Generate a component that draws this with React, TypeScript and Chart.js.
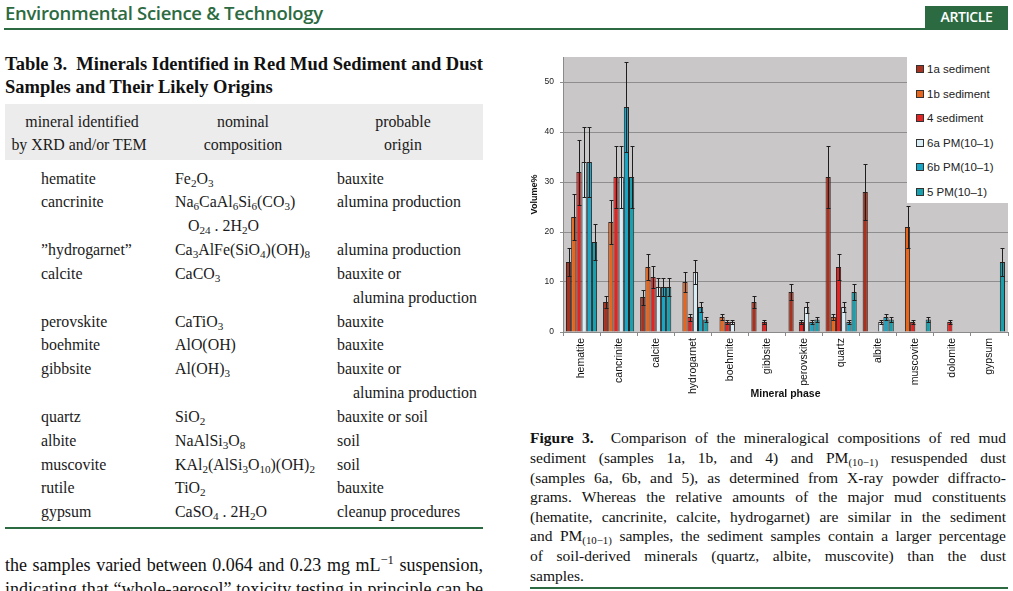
import React, { useEffect, useRef } from "react";
import { Chart, registerables } from "chart.js";
Chart.register(...registerables);

const minerals = ["hematite", "cancrinite", "calcite", "hydrogarnet", "boehmite", "gibbsite", "perovskite", "quartz", "albite", "muscovite", "dolomite", "gypsum"];
const seriesLabels = ["1a sediment", "1b sediment", "4 sediment", "6a PM(10–1)", "6b PM(10–1)", "5 PM(10–1)"];
const seriesColors = ["#a8321f", "#e8661c", "#e32422", "#d8edf5", "#16a6c6", "#17a0ad"];

const vol1a = [14, 6, 7, null, null, 6, 8, 31, 28, null, null, null];
const vol1b = [23, 22, 13, 10, 3, null, null, 3, null, 21, null, null];
const vol4 = [32, 31, 11, 3, 2, 2, 2, 13, null, 2, 2, null];
const vol6a = [34, 31, 9, 12, 2, null, 5, 5, 2, null, null, null];
const vol6b = [34, 45, 9, 5, null, null, 2, 2, 3, null, null, null];
const vol5 = [18, 31, 9, 2.5, null, null, 2.5, 8, 2.5, 2.5, null, 14];

const err1a = [2.8, 1.2, 1.5, 0, 0, 1.2, 1.6, 6.2, 5.6, 0, 0, 0];
const err1b = [4.6, 4.4, 2.6, 2, 0.6, 0, 0, 0.6, 0, 4.2, 0, 0];
const err4 = [6.5, 6.2, 2.2, 0.7, 0.4, 0.4, 0.4, 2.6, 0, 0.4, 0.4, 0];
const err6a = [7, 6.2, 1.8, 2.4, 0.4, 0, 1.1, 1, 0.4, 0, 0, 0];
const err6b = [7, 9, 1.8, 1, 0, 0, 0.4, 0.4, 0.6, 0, 0, 0];
const err5 = [3.6, 6.2, 1.8, 0.5, 0, 0, 0.5, 1.6, 0.5, 0.5, 0, 2.8];

const yTicks = [0, 10, 20, 30, 40, 50];

const seriesValues = [vol1a, vol1b, vol4, vol6a, vol6b, vol5];
const seriesErrors = [err1a, err1b, err4, err6a, err6b, err5];

const SERIF = '"Liberation Serif", "Times New Roman", serif';
const SANS = '"Liberation Sans", Arial, sans-serif';
const GREEN = "#2c6b41";

const plotBg = {
  id: "plotBg",
  beforeDraw(chart: any) {
    const { ctx, chartArea } = chart;
    ctx.save();
    ctx.fillStyle = "#c9c7c8";
    ctx.fillRect(chartArea.left, chartArea.top, chartArea.right - chartArea.left, chartArea.bottom - chartArea.top);
    ctx.restore();
  },
};

const errorBars = {
  id: "errorBars",
  afterDatasetsDraw(chart: any) {
    const { ctx } = chart;
    const yScale = chart.scales.y;
    ctx.save();
    ctx.strokeStyle = "#1e1e1e";
    ctx.lineWidth = 1;
    chart.data.datasets.forEach((ds: any, di: number) => {
      const meta = chart.getDatasetMeta(di);
      const errs = seriesErrors[di];
      meta.data.forEach((bar: any, i: number) => {
        const v = ds.data[i];
        const e = errs[i];
        if (v == null || !e) return;
        const x = Math.round(bar.x) + 0.5;
        const yTop = Math.round(yScale.getPixelForValue(v + e)) + 0.5;
        const yBot = Math.round(yScale.getPixelForValue(Math.max(0, v - e))) + 0.5;
        ctx.beginPath();
        ctx.moveTo(x, yTop);
        ctx.lineTo(x, yBot);
        ctx.moveTo(x - 2, yTop);
        ctx.lineTo(x + 2, yTop);
        ctx.moveTo(x - 2, yBot);
        ctx.lineTo(x + 2, yBot);
        ctx.stroke();
      });
    });
    ctx.restore();
  },
};

function MineralChart() {
  const ref = useRef<HTMLCanvasElement>(null);
  useEffect(() => {
    if (!ref.current) return;
    const chart = new Chart(ref.current, {
      type: "bar",
      data: {
        labels: minerals,
        datasets: seriesLabels.map((label, i) => ({
          label,
          data: seriesValues[i],
          backgroundColor: seriesColors[i],
          borderColor: "#2e2220",
          borderWidth: 1,
          categoryPercentage: 0.84,
          barPercentage: 1.0,
        })),
      },
      options: {
        responsive: false,
        animation: false,
        events: [],
        layout: { padding: { top: 17, right: 5, left: 0, bottom: 0 } },
        plugins: { legend: { display: false }, tooltip: { enabled: false } },
        scales: {
          x: {
            grid: { display: true, drawOnChartArea: false, drawTicks: true, tickLength: 4, color: "#8a8a8a", offset: true },
            border: { display: true, color: "#8a8a8a" },
            ticks: { minRotation: 90, maxRotation: 90, autoSkip: false, font: { family: SANS, size: 10.5 }, color: "#111", padding: 2 },
            title: { display: true, text: "Mineral phase", font: { family: SANS, size: 10.5, weight: "bold" }, color: "#111", padding: { top: 0, bottom: 10 } },
            afterFit: (s: any) => { s.height = 78; },
          },
          y: {
            min: 0,
            max: 55,
            afterBuildTicks: (s: any) => { s.ticks = yTicks.map((v) => ({ value: v })); },
            ticks: { font: { family: SANS, size: 8.5 }, color: "#222", padding: 6 },
            grid: { color: "#8e8e8e", tickLength: 3 },
            border: { display: true, color: "#8a8a8a" },
            title: { display: true, text: "Volume%", font: { family: SANS, size: 9, weight: "bold" }, color: "#111", padding: { top: 4, bottom: 0 } },
            afterFit: (s: any) => { s.width = 38; },
          },
        },
      },
      plugins: [plotBg, errorBars],
    } as any);
    return () => chart.destroy();
  }, []);
  return <canvas ref={ref} width={488} height={370} style={{ display: "block" }} />;
}

function Abs({ x, y, w, h = 24, style, children }: any) {
  return (
    <div style={{ position: "absolute", left: x, top: y - h / 2, width: w, height: h, lineHeight: h + "px", ...style }}>
      {children}
    </div>
  );
}

function JLine({ x, y, w, size, last, children }: any) {
  return (
    <div style={{ position: "absolute", left: x, top: y - 10, width: w, height: 20, lineHeight: "20px", fontFamily: SERIF, fontSize: size, textAlign: "justify", textAlignLast: last ? "left" : "justify", color: "#111" } as any}>
      {children}
    </div>
  );
}

const tableRows: { y: number; c1?: any; c2?: any; c3?: any; c2x?: number; c3x?: number }[] = [
  { y: 179, c1: "hematite", c2: <>Fe<sub>2</sub>O<sub>3</sub></>, c3: "bauxite" },
  { y: 202, c1: "cancrinite", c2: <>Na<sub>6</sub>CaAl<sub>6</sub>Si<sub>6</sub>(CO<sub>3</sub>)</>, c3: "alumina production" },
  { y: 226, c2: <>O<sub>24</sub> . 2H<sub>2</sub>O</>, c2x: 188 },
  { y: 250, c1: "\u201dhydrogarnet\u201d", c2: <>Ca<sub>3</sub>AlFe(SiO<sub>4</sub>)(OH)<sub>8</sub></>, c3: "alumina production" },
  { y: 274, c1: "calcite", c2: <>CaCO<sub>3</sub></>, c3: "bauxite or" },
  { y: 298, c3: "alumina production", c3x: 353 },
  { y: 322, c1: "perovskite", c2: <>CaTiO<sub>3</sub></>, c3: "bauxite" },
  { y: 345, c1: "boehmite", c2: "AlO(OH)", c3: "bauxite" },
  { y: 369, c1: "gibbsite", c2: <>Al(OH)<sub>3</sub></>, c3: "bauxite or" },
  { y: 393, c3: "alumina production", c3x: 353 },
  { y: 417, c1: "quartz", c2: <>SiO<sub>2</sub></>, c3: "bauxite or soil" },
  { y: 441, c1: "albite", c2: <>NaAlSi<sub>3</sub>O<sub>8</sub></>, c3: "soil" },
  { y: 465, c1: "muscovite", c2: <>KAl<sub>2</sub>(AlSi<sub>3</sub>O<sub>10</sub>)(OH)<sub>2</sub></>, c3: "soil" },
  { y: 488, c1: "rutile", c2: <>TiO<sub>2</sub></>, c3: "bauxite" },
  { y: 512, c1: "gypsum", c2: <>CaSO<sub>4</sub> . 2H<sub>2</sub>O</>, c3: "cleanup procedures" },
];

const subStyle = `sub{font-size:0.7em;vertical-align:-0.25em;line-height:0;}`;

export default function App() {
  const tStyle = { fontFamily: SERIF, fontSize: 15.9, color: "#1a1a1a", whiteSpace: "nowrap" };
  return (
    <div style={{ position: "fixed", left: 0, top: 0, width: 1013, height: 591, overflow: "hidden", background: "#fff" }}>
      <style>{subStyle}</style>
      {/* header */}
      <Abs x={5} y={13} w={420} h={26} style={{ fontFamily: '"Open Sans", sans-serif', fontSize: 18.5, fontWeight: 600, color: GREEN, whiteSpace: "nowrap", letterSpacing: -0.3 }}>
        Environmental Science &amp; Technology
      </Abs>
      <div style={{ position: "absolute", left: 4, top: 28, width: 1004, height: 2, background: GREEN }} />
      <div style={{ position: "absolute", left: 925, top: 6, width: 83, height: 22, background: GREEN, color: "#fff", fontFamily: '"Open Sans", sans-serif', fontSize: 14, fontWeight: 600, lineHeight: "22px", textAlign: "center", letterSpacing: -0.4 }}>
        ARTICLE
      </div>

      {/* table title */}
      <Abs x={5} y={64} w={500} h={23} style={{ fontFamily: SERIF, fontSize: 18.5, fontWeight: "bold", color: "#111", whiteSpace: "nowrap" }}>
        Table 3.&nbsp; Minerals Identified in Red Mud Sediment and Dust
      </Abs>
      <Abs x={5} y={87} w={500} h={23} style={{ fontFamily: SERIF, fontSize: 18.5, fontWeight: "bold", color: "#111", whiteSpace: "nowrap" }}>
        Samples and Their Likely Origins
      </Abs>

      {/* table header */}
      <div style={{ position: "absolute", left: 5, top: 104, width: 478, height: 56, background: "#ececec" }} />
      <Abs x={0} y={122} w={164} style={{ ...tStyle, textAlign: "center" }}>mineral identified</Abs>
      <Abs x={0} y={145} w={158} style={{ ...tStyle, textAlign: "center" }}>by XRD and/or TEM</Abs>
      <Abs x={163} y={122} w={160} style={{ ...tStyle, textAlign: "center" }}>nominal</Abs>
      <Abs x={163} y={145} w={160} style={{ ...tStyle, textAlign: "center" }}>composition</Abs>
      <Abs x={323} y={122} w={160} style={{ ...tStyle, textAlign: "center" }}>probable</Abs>
      <Abs x={323} y={145} w={160} style={{ ...tStyle, textAlign: "center" }}>origin</Abs>

      {tableRows.map((r, i) => (
        <React.Fragment key={i}>
          {r.c1 && <Abs x={41} y={r.y} w={130} style={tStyle}>{r.c1}</Abs>}
          {r.c2 && <Abs x={r.c2x ?? 175} y={r.y} w={160} style={tStyle}>{r.c2}</Abs>}
          {r.c3 && <Abs x={r.c3x ?? 337} y={r.y} w={150} style={tStyle}>{r.c3}</Abs>}
        </React.Fragment>
      ))}
      <div style={{ position: "absolute", left: 5, top: 527, width: 478, height: 2, background: GREEN }} />

      {/* body text */}
      <div style={{ position: "absolute", left: 5, top: 553, width: 478, height: 24, lineHeight: "24px", fontFamily: SERIF, fontSize: 18, textAlign: "justify", textAlignLast: "justify", color: "#111" } as any}>
        the samples varied between 0.064 and 0.23 mg mL<sup style={{ fontSize: "0.7em", lineHeight: 0 }}>−1</sup> suspension,
      </div>
      <div style={{ position: "absolute", left: 5, top: 577, width: 478, height: 24, lineHeight: "24px", fontFamily: SERIF, fontSize: 18, textAlign: "justify", textAlignLast: "justify", color: "#111" } as any}>
        indicating that “whole-aerosol” toxicity testing in principle can be
      </div>

      {/* chart */}
      <div style={{ position: "absolute", left: 525, top: 40, width: 488, height: 370 }}>
        <MineralChart />
      </div>
      {/* legend */}
      <div style={{ position: "absolute", left: 907, top: 57, width: 101, height: 146, background: "#fff" }}>
        {seriesLabels.map((l, i) => (
          <div key={l} style={{ position: "absolute", left: 9, top: 12 + i * 24.5 - 8, height: 16, lineHeight: "16px", fontFamily: SANS, fontSize: 11.5, color: "#222", whiteSpace: "nowrap" }}>
            <span style={{ display: "inline-block", width: 6, height: 6, background: seriesColors[i], border: "1px solid #333", marginRight: 3, verticalAlign: "0px" }} />
            {l}
          </div>
        ))}
      </div>

      {/* caption */}
      <JLine x={530} y={438} w={476} size={15.5}><b>Figure 3.</b>&nbsp; Comparison of the mineralogical compositions of red mud</JLine>
      <JLine x={530} y={458} w={476} size={15.5}>sediment (samples 1a, 1b, and 4) and PM<sub>(10−1)</sub> resuspended dust</JLine>
      <JLine x={530} y={478} w={476} size={15.5}>(samples 6a, 6b, and 5), as determined from X-ray powder diffracto-</JLine>
      <JLine x={530} y={497} w={476} size={15.5}>grams. Whereas the relative amounts of the major mud constituents</JLine>
      <JLine x={530} y={517} w={476} size={15.5}>(hematite, cancrinite, calcite, hydrogarnet) are similar in the sediment</JLine>
      <JLine x={530} y={536} w={476} size={15.5}>and PM<sub>(10−1)</sub> samples, the sediment samples contain a larger percentage</JLine>
      <JLine x={530} y={556} w={476} size={15.5}>of soil-derived minerals (quartz, albite, muscovite) than the dust</JLine>
      <JLine x={530} y={576} w={476} size={15.5} last>samples.</JLine>
      <div style={{ position: "absolute", left: 530, top: 587, width: 478, height: 2, background: GREEN }} />
    </div>
  );
}
